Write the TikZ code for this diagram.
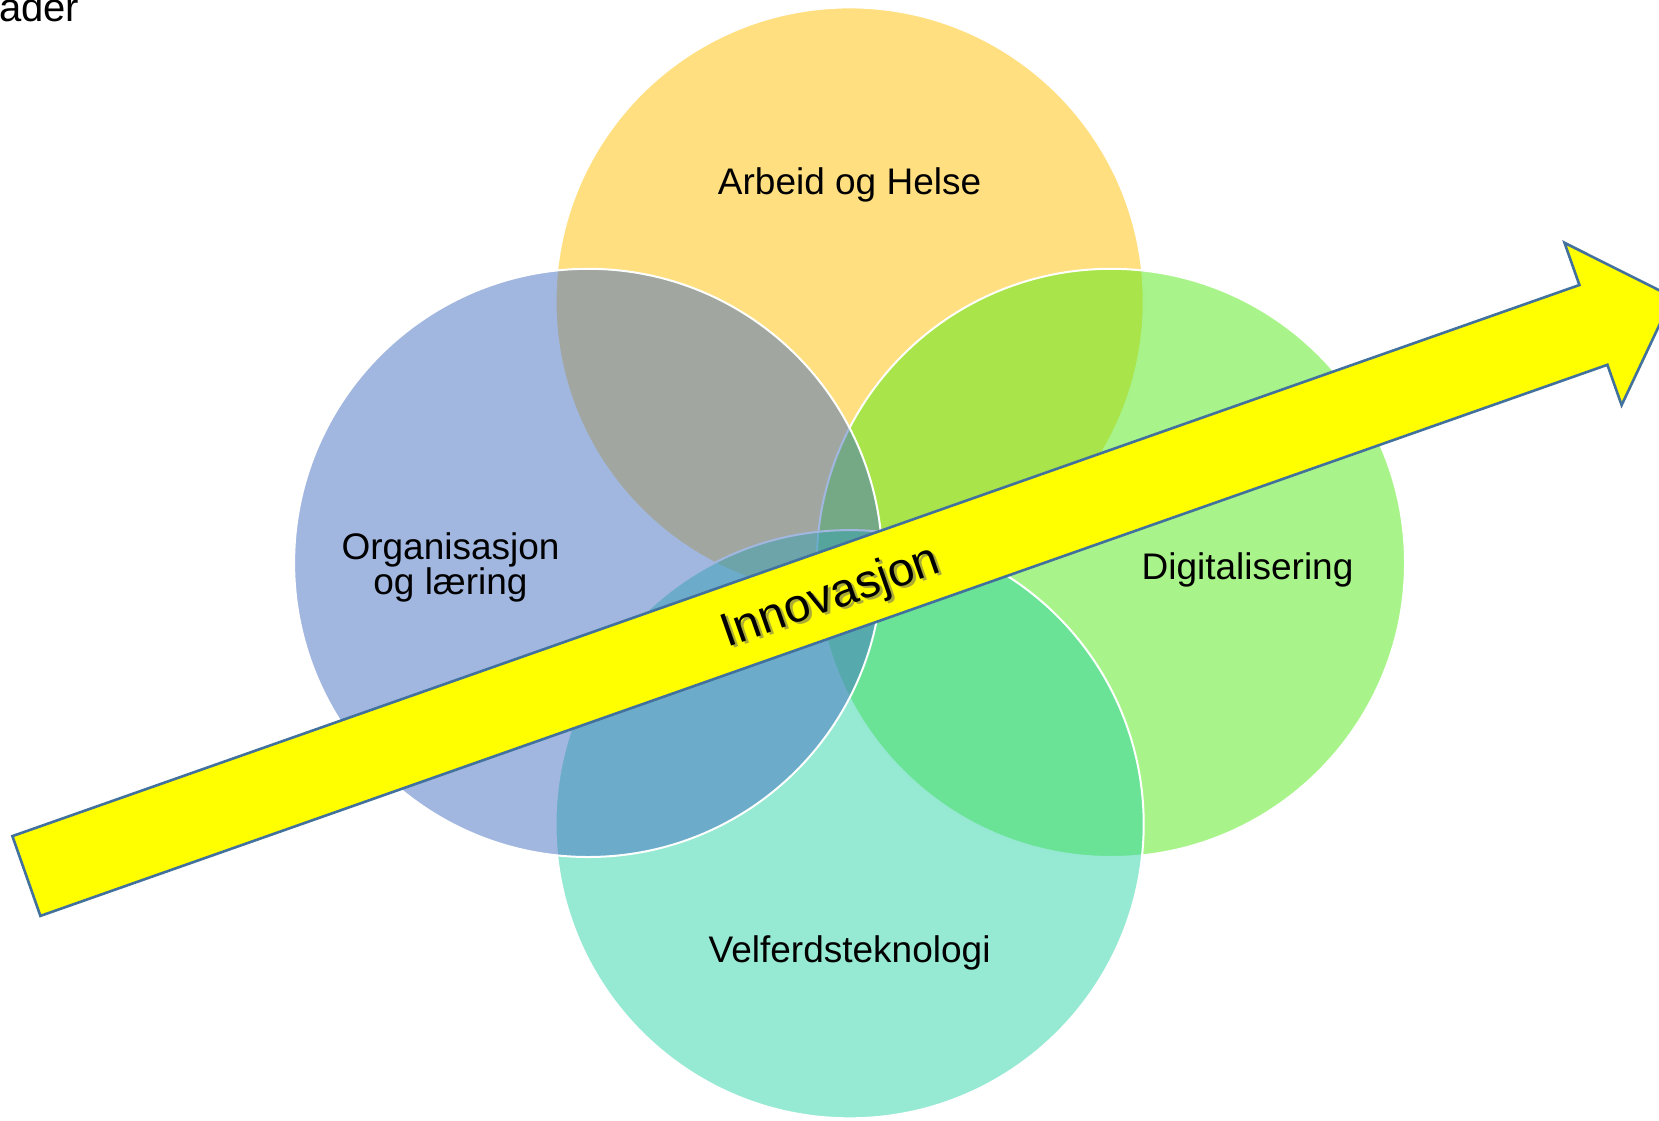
\documentclass[tikz,border=0pt]{standalone}
\usepackage{fontspec}
\setmainfont{Liberation Sans}
\definecolor{cTop}{RGB}{255,192,0}
\definecolor{cLeft}{RGB}{68,112,194}
\definecolor{cRight}{RGB}{83,233,21}
\definecolor{cBot}{RGB}{45,211,165}
\definecolor{arrowline}{RGB}{65,113,156}
\definecolor{arrowfill}{RGB}{255,255,0}
\begin{document}
\begin{tikzpicture}[x=0.5pt,y=-0.5pt,
  venn/.style={circle, inner sep=0pt, minimum size=294.1pt, fill opacity=0.5, draw=white, line width=1pt},
  lbl/.style={font=\fontsize{18.5}{17.5}\selectfont, align=center, inner sep=0pt, text=black}]
\useasboundingbox (0,0) rectangle (1659,1120);
% circles: order top, right, bottom, left
\node[venn, fill=cTop]   (ctop)   at (849.6,301.5) {};
\node[venn, fill=cRight] (cright) at (1110.9,562.9) {};
\node[venn, fill=cBot]   (cbot)   at (849.6,824.2) {};
\node[venn, fill=cLeft]  (cleft)  at (588.2,562.9) {};
% labels
\node[lbl] (ltop)   at (849.6,185) {Arbeid og Helse};
\node[lbl] (lleft)  at (450.5,567) {Organisasjon\\og læring};
\node[lbl] (lright) at (1247.5,569.5) {Digitalisering};
\node[lbl] (lbot)   at (849.6,953) {Velferdsteknologi};
% arrow
\draw[fill=arrowfill, draw=arrowline, line width=1.3pt, line join=miter]
  (12.4,836.1) -- (1579.4,285.0) -- (1564.5,242.8) -- (1672.6,297.0)
  -- (1621.6,405.1) -- (1607.4,364.8) -- (40.4,915.9) -- cycle;
% arrow text with shadow
\node[rotate=19.4, font=\fontsize{23.6}{28}\selectfont, text=black!60, opacity=0.55, inner sep=0pt] (innoshadow) at (834,600) {Innovasjon};
\node[rotate=19.4, font=\fontsize{23.6}{28}\selectfont, inner sep=0pt] (inno) at (831,598) {Innovasjon};
% cut-off heading text
\node[anchor=base east, font=\fontsize{20}{24}\selectfont, inner sep=0pt] (head) at (79.5,21) {ader};
\end{tikzpicture}
\end{document}
